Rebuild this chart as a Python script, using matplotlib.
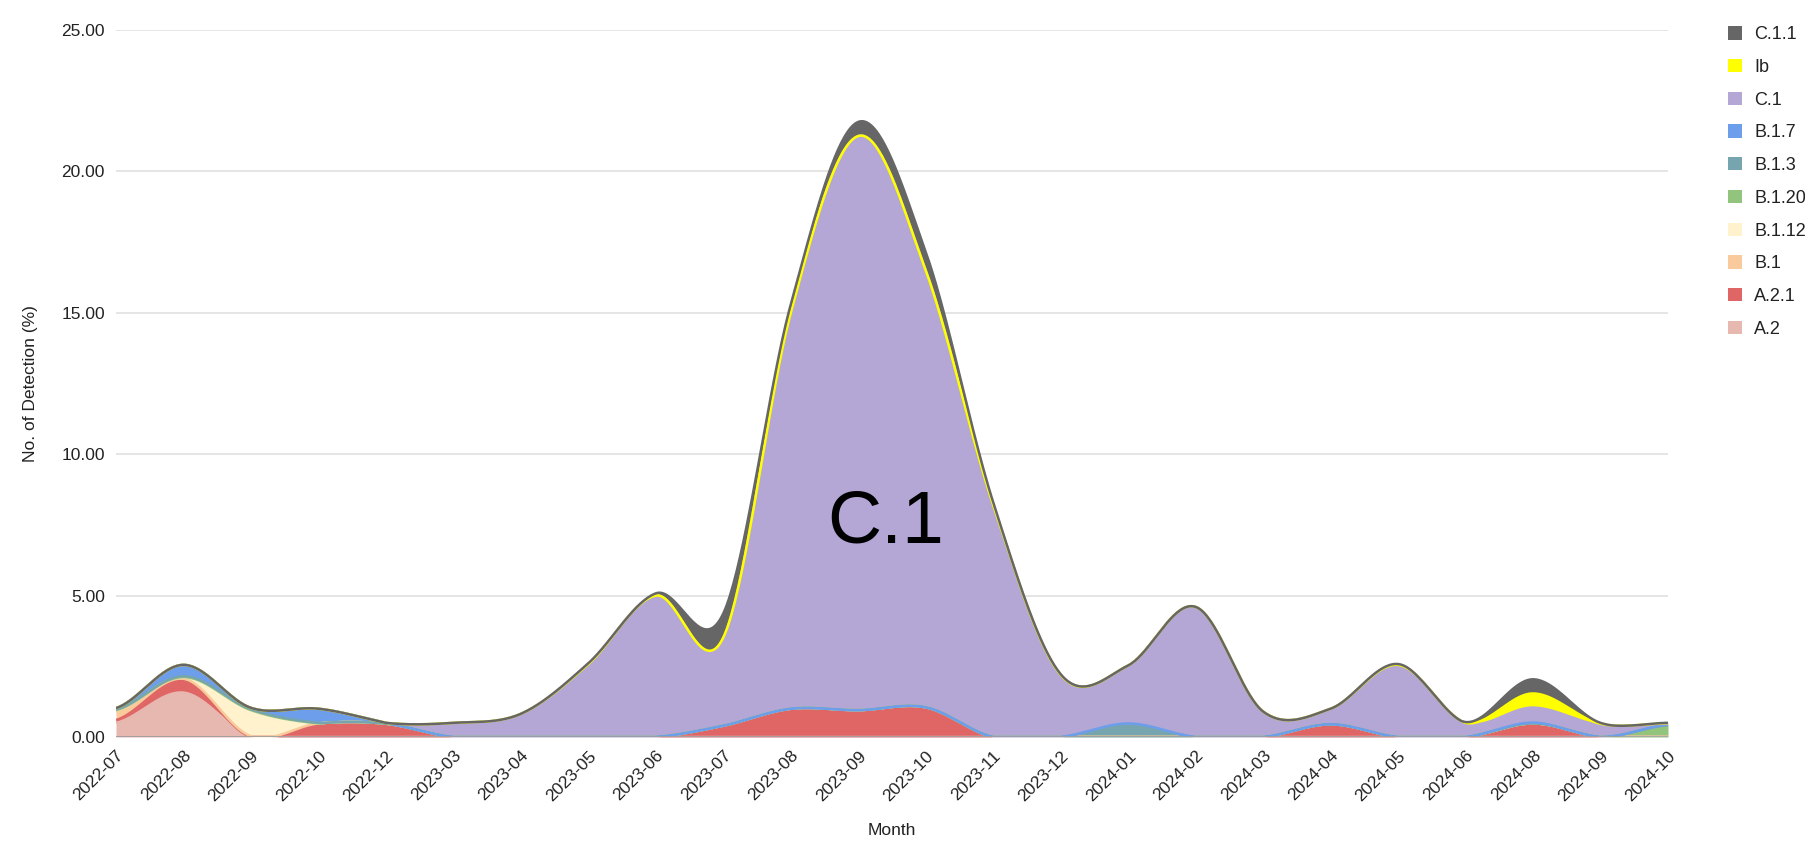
import matplotlib.pyplot as plt
import numpy as np
from matplotlib.patches import Patch

plt.rcParams['font.family'] = ['Liberation Sans', 'DejaVu Sans']

months = ['2022-07', '2022-08', '2022-09', '2022-10', '2022-12', '2023-03', '2023-04', '2023-05',
          '2023-06', '2023-07', '2023-08', '2023-09', '2023-10', '2023-11', '2023-12', '2024-01',
          '2024-02', '2024-03', '2024-04', '2024-05', '2024-06', '2024-08', '2024-09', '2024-10']

# stacked from the bottom up
a2 = [0.50, 1.57, 0, 0, 0, 0, 0, 0, 0, 0, 0, 0, 0, 0, 0, 0, 0, 0, 0, 0, 0, 0, 0, 0]
a21 = [0.10, 0.40, 0, 0.42, 0.45, 0, 0, 0, 0, 0.40, 1.00, 0.95, 1.05, 0, 0, 0, 0, 0, 0.45, 0, 0, 0.48, 0, 0]
b1 = [0.30, 0.10, 0.03, 0.06, 0.02, 0, 0, 0, 0, 0, 0, 0, 0, 0, 0, 0, 0, 0, 0, 0, 0, 0, 0, 0]
b112 = [0.05, 0.05, 0.92, 0, 0, 0, 0, 0, 0, 0, 0, 0, 0, 0, 0, 0, 0, 0, 0, 0, 0, 0, 0, 0]
b120 = [0, 0, 0, 0, 0, 0, 0, 0, 0, 0, 0, 0, 0, 0, 0, 0, 0, 0, 0, 0, 0, 0, 0, 0.42]
b13 = [0.02, 0.03, 0.03, 0.02, 0, 0, 0, 0, 0, 0, 0, 0, 0, 0, 0, 0.45, 0, 0, 0, 0, 0, 0, 0, 0]
b17 = [0.05, 0.40, 0.05, 0.50, 0.03, 0, 0, 0, 0, 0, 0, 0, 0, 0, 0, 0.03, 0, 0, 0, 0, 0, 0.03, 0, 0.02]
c1 = [0, 0, 0, 0, 0, 0.50, 0.82, 2.58, 5.00, 3.10, 14.0, 20.3, 15.45, 8.20, 2.20, 2.05, 4.60, 0.90,
      0.55, 2.55, 0.50, 0.53, 0.42, 0.03]
ib = [0, 0, 0, 0, 0, 0, 0, 0, 0, 0.02, 0, 0, 0, 0, 0, 0, 0, 0, 0, 0, 0, 0.50, 0.05, 0.02]
c11 = [0, 0, 0, 0, 0, 0, 0, 0.03, 0.08, 0.85, 0.30, 0.50, 0.65, 0.10, 0.02, 0, 0, 0, 0, 0.03, 0.03,
       0.50, 0.03, 0.01]

series = [('A.2', a2, '#e6b8af'), ('A.2.1', a21, '#e06666'), ('B.1', b1, '#f9cb9c'),
          ('B.1.12', b112, '#fff2cc'), ('B.1.20', b120, '#93c47d'), ('B.1.3', b13, '#76a5af'),
          ('B.1.7', b17, '#6d9eeb'), ('C.1', c1, '#b4a7d6'), ('Ib', ib, '#ffff00'),
          ('C.1.1', c11, '#666666')]


def smooth(y, n=40):
    # catmull-rom through the points
    y = np.asarray(y, float)
    p = np.concatenate([[y[0]], y, [y[-1]]])
    t = np.linspace(0, 1, n, endpoint=False)
    xs, ys = [], []
    for i in range(len(y) - 1):
        p0, p1, p2, p3 = p[i], p[i + 1], p[i + 2], p[i + 3]
        seg = 0.5 * ((2 * p1) + (-p0 + p2) * t + (2 * p0 - 5 * p1 + 4 * p2 - p3) * t ** 2
                     + (-p0 + 3 * p1 - 3 * p2 + p3) * t ** 3)
        xs.append(i + t)
        ys.append(seg)
    xs.append([len(y) - 1])
    ys.append([y[-1]])
    return np.concatenate(xs), np.concatenate(ys)


fig = plt.figure(figsize=(18.06, 8.43), dpi=100)
ax = fig.add_axes([116 / 1806, 1 - 737 / 843, (1668 - 116) / 1806, (737 - 30) / 843])

cum = np.zeros(len(months))
prev = None
curves = []
for name, vals, col in series:
    cum = cum + np.array(vals)
    xs, ys = smooth(cum)
    ys = np.maximum(ys, 0)
    if prev is None:
        prev = np.zeros_like(ys)
    ys = np.maximum(ys, prev)
    ax.fill_between(xs, prev, ys, color=col, lw=0, zorder=2)
    curves.append((xs, ys, col))
    prev = ys

for xs, ys, col in curves:
    ax.plot(xs, ys, color=col, lw=1.8, zorder=3, solid_capstyle='butt')

ax.axhline(0, color='#9e9e9e', lw=2, zorder=4)

ax.set_xlim(0, len(months) - 1)
ax.set_ylim(0, 25)
ax.set_yticks(np.arange(0, 26, 5))
ax.set_yticklabels(['%.2f' % v for v in np.arange(0, 26, 5)])
ax.set_xticks(range(len(months)))
ax.set_xticklabels(months, rotation=45, ha='right', rotation_mode='anchor')
ax.grid(axis='y', color='#e3e3e3', lw=1.3, zorder=0)
ax.set_axisbelow(True)
for s in ax.spines.values():
    s.set_visible(False)
ax.tick_params(axis='both', length=0, labelsize=12.5, colors='#222222')
ax.tick_params(axis='y', pad=8)
ax.tick_params(axis='x', pad=8)

ax.set_xlabel('Month', fontsize=12.5, color='#222222', labelpad=14)
ax.set_ylabel('No. of Detection (%)', fontsize=12.5, color='#222222', labelpad=17)

ax.text(11.4, 7.57, 'C.1', fontsize=54, ha='center', va='center', color='black', zorder=5)

handles = [Patch(facecolor=col, edgecolor='none', label=name) for name, vals, col in series[::-1]]
fig.legend(handles=handles, loc='upper left', bbox_to_anchor=(1712 / 1806, 1 - 10 / 843),
           frameon=False, fontsize=13, handlelength=0.75, handleheight=0.75, handletextpad=0.7,
           labelspacing=0.87, labelcolor='#222222')

fig.savefig('out.png', dpi=100)
